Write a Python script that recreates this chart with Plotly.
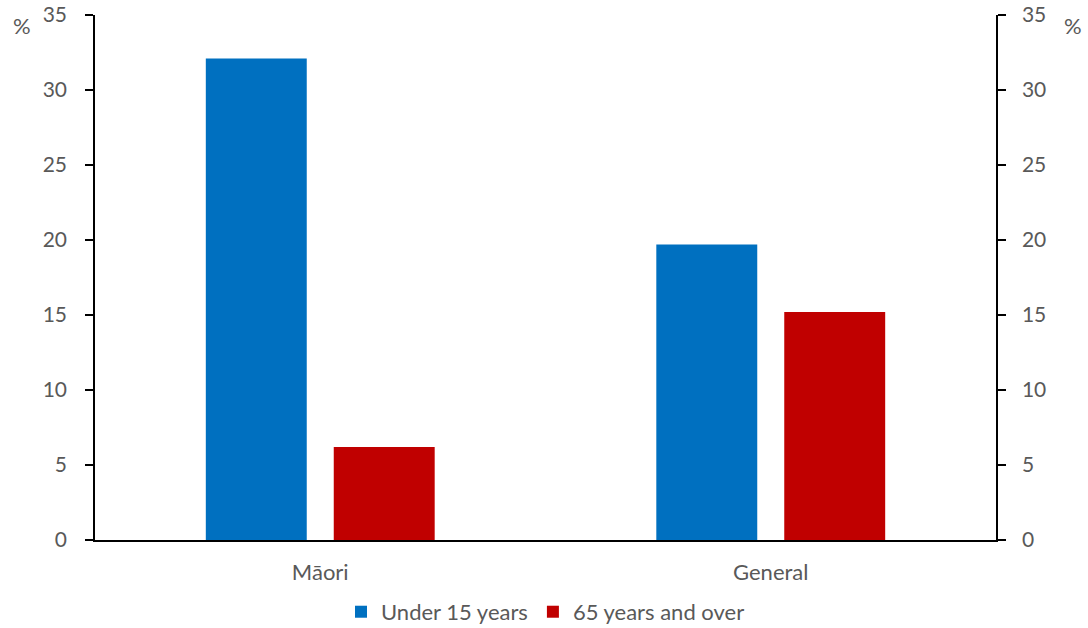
import plotly.graph_objects as go

categories = ["Māori", "General"]
under15 = [32.1, 19.7]
over65 = [6.2, 15.2]
series_names = ["Under 15 years", "65 years and over"]
tick_vals = [0, 5, 10, 15, 20, 25, 30, 35]

FONT = "Lato"
GREY = "#595959"

fig = go.Figure()
fig.add_trace(go.Bar(x=categories, y=under15, name=series_names[0],
                     marker=dict(color="#0070C0", line=dict(width=0))))
fig.add_trace(go.Bar(x=categories, y=over65, name=series_names[1],
                     marker=dict(color="#C00000", line=dict(width=0))))
# invisible trace to carry right axis
fig.add_trace(go.Scatter(x=categories, y=under15, yaxis="y2", mode="markers",
                         marker=dict(opacity=0), showlegend=False, hoverinfo="skip"))

axis_common = dict(range=[0, 35], tickvals=tick_vals, ticks="outside", ticklen=8,
                   tickwidth=1.5, tickcolor="black", showline=True, linecolor="black",
                   linewidth=1.5, showgrid=False, zeroline=False, automargin=False,
                   tickfont=dict(family=FONT, size=21, color=GREY))

fig.update_layout(
    width=1088, height=628,
    margin=dict(l=95, r=92, t=15, b=88, autoexpand=False),
    paper_bgcolor="white", plot_bgcolor="white",
    barmode="group", bargap=0.432, bargroupgap=0.211,
    font=dict(family=FONT, size=22, color=GREY),
    xaxis=dict(showline=True, linecolor="black", linewidth=1.5, ticks="",
               showgrid=False, automargin=False,
               tickfont=dict(family=FONT, size=22, color=GREY),
               ticklabelstandoff=12),
    yaxis=dict(**axis_common, side="left", ticklabelstandoff=14),
    yaxis2=dict(**axis_common, side="right", overlaying="y", ticklabelstandoff=12),
    legend=dict(orientation="h", x=0.50, xanchor="center", y=-0.137, yanchor="middle",
                font=dict(family=FONT, size=22, color=GREY), itemwidth=30),
    showlegend=True,
    annotations=[
        dict(text="%", xref="paper", yref="paper", x=-0.093, y=0.98, xanchor="left",
             yanchor="middle", showarrow=False, font=dict(family=FONT, size=22, color=GREY)),
        dict(text="%", xref="paper", yref="paper", x=1.073, y=0.98, xanchor="left",
             yanchor="middle", showarrow=False, font=dict(family=FONT, size=22, color=GREY)),
    ],
)

fig.write_html("out.html", config={"displayModeBar": False},
               post_script="document.body.style.margin='0px';document.body.style.overflow='hidden';")
